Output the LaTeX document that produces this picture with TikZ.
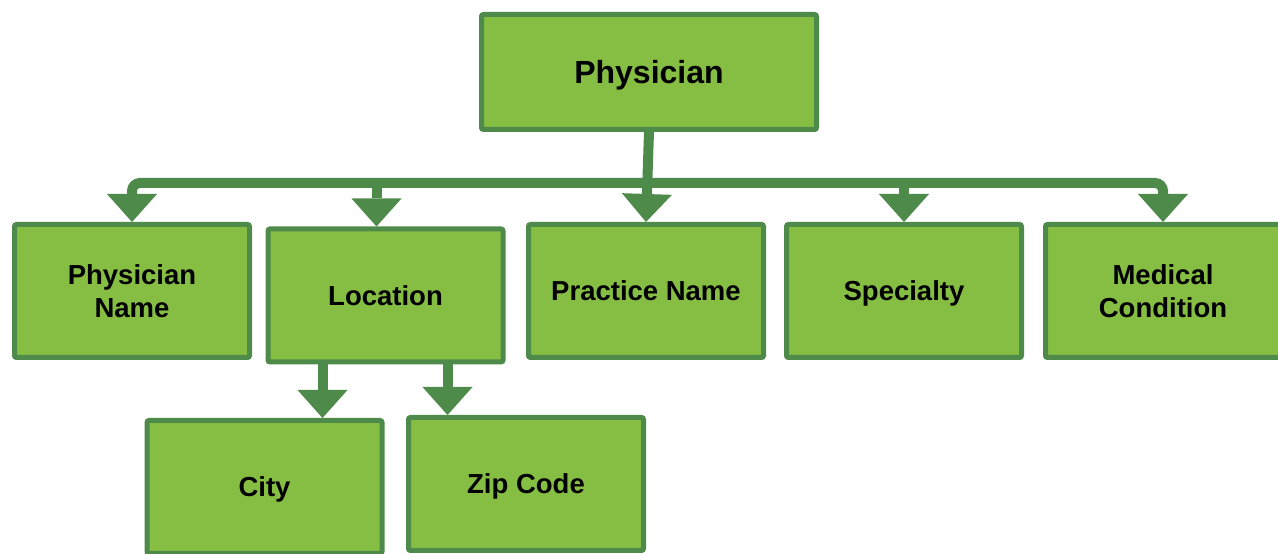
\documentclass[tikz,border=0pt]{standalone}
\usepackage{fontspec}
\setmainfont{Liberation Sans}
\usetikzlibrary{arrows.meta}
\definecolor{leaf}{RGB}{134,190,68}
\definecolor{moss}{RGB}{78,138,74}

\begin{document}
\begin{tikzpicture}[x=1pt,y=1pt]
\tikzset{
  box/.style={rectangle,draw=moss,fill=leaf,line width=5pt,rounded corners=2pt,minimum width=235pt,minimum height=133pt,align=center,font=\fontsize{27.5}{33}\selectfont\bfseries},
  bigbox/.style={box,minimum width=335pt,minimum height=115pt,font=\fontsize{32}{38}\selectfont\bfseries},
  flat/.style={text depth=0pt},
  link/.style={draw=moss,line width=10pt},
  arr/.style={link,-{Triangle[length=28pt,width=50pt,line width=0pt]}}
}
\useasboundingbox (0,0) rectangle (1278,554);
\node[bigbox,flat] (n_phys) at (649,482) {Physician};
\node[box] (n_pname) at (132,263) {Physician\\Name};
\node[box] (n_loc) at (385.5,258.5) {Location};
\node[box,flat] (n_prac) at (646,263) {Practice Name};
\node[box,flat] (n_spec) at (904,263) {Specialty};
\node[box] (n_medc) at (1163,263) {Medical\\Condition};
\node[box,flat] (n_city) at (264.5,67) {City};
\node[box,flat] (n_zip) at (526,70) {Zip Code};
% branch bar
\coordinate (bar) at (0,371);
\coordinate (l_top) at ([xshift=-9pt]n_loc.north);
\coordinate (c_top) at ([xshift=-63pt]n_loc.south);
\coordinate (z_top) at ([xshift=62pt]n_loc.south);
\draw[link,{Triangle[length=28pt,width=50pt,line width=0pt]}-{Triangle[length=28pt,width=50pt,line width=0pt]},rounded corners=8pt]
  (n_pname.north) |- (bar -| n_medc.north) -- (n_medc.north);
\draw[arr] (n_phys.south) -- (n_prac.north);
\draw[arr] (l_top |- bar) -- (l_top);
\draw[arr] (n_spec.north |- bar) -- (n_spec.north);
% location children
\draw[arr] (c_top) -- (c_top |- n_city.north);
\draw[arr] (z_top) -- (z_top |- n_zip.north);
\end{tikzpicture}
\end{document}
